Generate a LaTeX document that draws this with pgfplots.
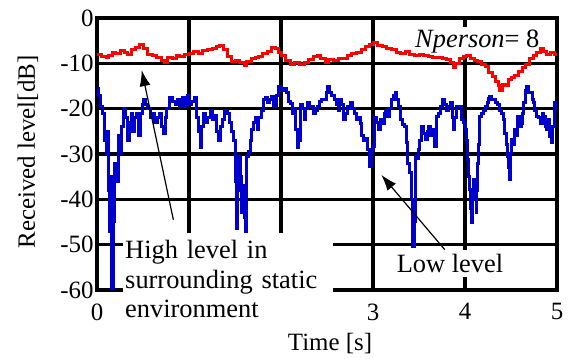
\documentclass[border=0pt]{standalone}
\usepackage{fontspec}
\setmainfont{Liberation Serif}
\usepackage{pgfplots}
\pgfplotsset{compat=1.18}
\usetikzlibrary{arrows.meta}
\definecolor{dred}{RGB}{255,0,0}
\definecolor{dblue}{RGB}{0,0,204}
\begin{document}
\begin{tikzpicture}
\path[use as bounding box] (-97bp,-69bp) rectangle (471bp,290bp);
\begin{axis}[name=ax, scale only axis, width=460bp, height=272bp,
  xmin=0, xmax=5, ymin=-60, ymax=0,
  clip mode=individual,
  xtick={0,1,2,3,4,5}, xticklabels={0,,,3,4,5},
  ytick={-60,-50,-40,-30,-20,-10,0}, yticklabels={-60,-50,-40,-30,-20,-10,0},
  grid=major, major grid style={black, line width=3.5bp},
  axis line style={black, line width=3.5bp},
  major tick length=0pt,
  tick label style={font=\fontsize{25}{30}\selectfont},
  xticklabel style={yshift=-10bp},
]
\node[anchor=north west, fill=white, inner xsep=2bp, inner ysep=7bp, text width=206bp, align=left, font=\fontsize{26.5}{30}\selectfont] at (axis cs:0.283,-47.36) {High level in\\surrounding static\\environment};
\node[anchor=base, fill=white, inner sep=4bp, font=\fontsize{26.5}{30}\selectfont] at (axis cs:3.837,-56.2) {Low level};
\node[anchor=base west, fill=white, inner xsep=2bp, inner ysep=3bp, font=\fontsize{26.5}{30}\selectfont] at (axis cs:3.435,-6.61) {\itshape Nperson\upshape = 8};
\addplot[dred, line width=3bp, const plot] coordinates {
(0.00,-8.0)(0.05,-8.5)(0.10,-8.8)(0.13,-8.2)(0.17,-7.6)(0.20,-7.9)(0.25,-7.2)(0.30,-7.6)(0.33,-8.0)(0.38,-7.0)
(0.42,-6.5)(0.46,-5.9)(0.50,-6.8)(0.55,-8.0)(0.60,-8.2)(0.65,-8.7)(0.70,-9.3)(0.73,-9.8)(0.77,-8.7)(0.82,-8.9)
(0.86,-8.3)(0.90,-8.5)(0.95,-8.1)(1.00,-7.8)(1.05,-7.5)(1.10,-7.9)(1.15,-7.2)(1.20,-7.0)(1.25,-6.8)(1.30,-6.3)
(1.33,-6.0)(1.37,-6.9)(1.42,-8.6)(1.46,-9.6)(1.50,-9.4)(1.55,-9.9)(1.60,-10.4)(1.63,-9.5)(1.68,-9.0)(1.72,-8.7)
(1.76,-8.5)(1.80,-7.9)(1.85,-7.3)(1.90,-6.4)(1.94,-6.8)(1.97,-7.6)(2.00,-8.2)(2.05,-9.4)(2.10,-10.3)(2.15,-9.8)
(2.20,-10.2)(2.25,-9.9)(2.30,-9.2)(2.35,-8.5)(2.40,-8.2)(2.43,-9.0)(2.48,-9.8)(2.52,-9.2)(2.57,-9.4)(2.62,-9.0)
(2.67,-8.9)(2.72,-8.3)(2.77,-7.9)(2.82,-7.6)(2.87,-7.0)(2.92,-6.3)(2.96,-5.8)(3.00,-5.5)(3.05,-6.0)(3.10,-6.3)
(3.15,-6.8)(3.20,-7.0)(3.25,-7.6)(3.30,-7.9)(3.35,-7.4)(3.40,-8.0)(3.45,-8.2)(3.50,-8.0)(3.55,-8.3)(3.60,-8.6)
(3.65,-8.7)(3.70,-8.8)(3.75,-9.0)(3.80,-9.2)(3.84,-9.8)(3.87,-10.9)(3.90,-10.0)(3.94,-9.0)(3.98,-8.6)(4.02,-8.3)
(4.06,-8.9)(4.10,-9.3)(4.14,-9.6)(4.18,-10.2)(4.22,-10.8)(4.26,-12.0)(4.30,-13.0)(4.33,-14.0)(4.36,-15.0)(4.38,-16.0)
(4.41,-14.6)(4.44,-14.8)(4.47,-13.6)(4.50,-13.2)(4.54,-12.6)(4.58,-11.8)(4.62,-11.0)(4.66,-10.2)(4.70,-9.0)(4.74,-8.3)
(4.78,-7.6)(4.82,-6.8)(4.85,-7.5)(4.89,-8.0)(4.93,-7.6)(4.97,-8.0)(5.00,-7.8)
};
\addplot[dblue, line width=3bp, const plot] coordinates {
(0.00,-15.5)(0.02,-17)(0.04,-19.5)(0.06,-21)(0.08,-27)(0.10,-30)(0.11,-25)(0.13,-38)(0.14,-47)(0.15,-35)
(0.16,-60)(0.17,-60)(0.18,-45)(0.19,-32)(0.21,-36)(0.23,-26)(0.25,-30)(0.27,-24)(0.29,-20)(0.31,-22)
(0.33,-27)(0.35,-23)(0.37,-21)(0.39,-25)(0.41,-22)(0.43,-21)(0.45,-26)(0.47,-21)(0.49,-19)(0.51,-18)
(0.53,-19)(0.55,-20)(0.58,-22)(0.60,-21)(0.63,-23)(0.66,-22)(0.68,-21)(0.70,-24)(0.72,-25.5)(0.74,-22)
(0.76,-20)(0.79,-17.5)(0.82,-18.5)(0.85,-19)(0.88,-18)(0.90,-19.5)(0.93,-17.5)(0.96,-19.5)(0.98,-17)(1.00,-19)
(1.03,-18.5)(1.06,-17.5)(1.08,-22)(1.10,-25)(1.12,-28.5)(1.14,-24)(1.16,-21)(1.18,-23)(1.20,-22)(1.23,-20.5)
(1.26,-22.5)(1.28,-21.5)(1.30,-25)(1.32,-27)(1.34,-24)(1.36,-22.5)(1.39,-20.5)(1.42,-21)(1.44,-23)(1.46,-25)
(1.48,-27)(1.50,-28.5)(1.51,-36)(1.52,-46.5)(1.53,-38)(1.54,-30.5)(1.56,-35)(1.57,-43)(1.58,-40)(1.59,-37)
(1.60,-44)(1.61,-47)(1.62,-40)(1.63,-30.5)(1.65,-29.5)(1.67,-27)(1.68,-24.5)(1.70,-23)(1.72,-22)(1.74,-24.5)
(1.76,-22)(1.79,-20.5)(1.81,-18)(1.83,-17.5)(1.85,-18.7)(1.88,-18)(1.90,-17.3)(1.92,-19.5)(1.95,-17)(1.97,-15.2)
(2.00,-16)(2.03,-15.5)(2.06,-16.5)(2.08,-18.5)(2.10,-18.8)(2.12,-21)(2.14,-20)(2.16,-24.5)(2.18,-28.5)(2.19,-27)
(2.21,-19)(2.23,-20)(2.25,-22.5)(2.27,-20)(2.29,-18.7)(2.31,-19.5)(2.33,-19.5)(2.35,-21)(2.37,-20.5)(2.40,-19.5)
(2.42,-18.5)(2.44,-18)(2.47,-18)(2.49,-16.5)(2.51,-15.2)(2.53,-16.5)(2.55,-17)(2.58,-18)(2.60,-19)(2.62,-20.3)
(2.64,-18)(2.66,-19)(2.68,-22.5)(2.70,-21)(2.72,-19.5)(2.74,-20)(2.76,-18.7)(2.78,-20)(2.80,-21)(2.82,-22.5)
(2.84,-22)(2.86,-23.2)(2.88,-26)(2.90,-27)(2.92,-26.5)(2.94,-29)(2.96,-32.8)(2.98,-29)(3.00,-28.3)(3.02,-22)
(3.04,-23)(3.06,-24.7)(3.08,-22.5)(3.10,-23.2)(3.12,-21)(3.14,-20.3)(3.16,-21.8)(3.18,-20)(3.20,-18)(3.22,-17)
(3.24,-16.5)(3.26,-18)(3.28,-19.5)(3.30,-22.5)(3.32,-23.5)(3.34,-24)(3.36,-27.5)(3.37,-30)(3.38,-32)(3.40,-34)
(3.42,-40)(3.43,-50.5)(3.45,-45)(3.46,-30.6)(3.48,-31)(3.49,-29)(3.51,-27)(3.53,-24)(3.55,-25.5)(3.57,-26.9)
(3.59,-25)(3.60,-24)(3.62,-26)(3.64,-24.7)(3.66,-26)(3.67,-28.3)(3.69,-21.8)(3.71,-21)(3.73,-19.5)(3.75,-18.5)
(3.76,-18)(3.78,-19)(3.80,-20.3)(3.82,-19.5)(3.84,-18.7)(3.86,-22)(3.87,-24.7)(3.89,-22)(3.91,-19.5)(3.93,-19.5)
(3.96,-22.5)(3.98,-23)(4.00,-24.7)(4.02,-27)(4.03,-31.3)(4.04,-35)(4.05,-37.9)(4.06,-42)(4.07,-45.2)(4.08,-40)
(4.09,-35.7)(4.10,-37)(4.11,-40)(4.12,-43)(4.13,-38)(4.14,-32)(4.15,-28)(4.16,-21.8)(4.18,-21)(4.20,-20.3)
(4.22,-19.5)(4.24,-18.7)(4.26,-17.8)(4.27,-17.3)(4.29,-18)(4.31,-18)(4.33,-18.7)(4.35,-19)(4.38,-20.3)(4.40,-21)
(4.42,-22.5)(4.43,-25.4)(4.45,-28)(4.46,-30.6)(4.47,-33)(4.48,-35.7)(4.49,-30)(4.50,-26.9)(4.52,-28)(4.54,-24.7)
(4.56,-26)(4.57,-21.8)(4.59,-24)(4.61,-23.2)(4.63,-21)(4.64,-18.7)(4.66,-16)(4.67,-15.2)(4.69,-16.5)(4.71,-16.5)
(4.73,-18)(4.74,-18.7)(4.76,-20.5)(4.78,-21.8)(4.80,-22)(4.82,-23.2)(4.84,-21)(4.85,-21.8)(4.87,-24)(4.89,-24.7)
(4.91,-22.5)(4.92,-26.1)(4.94,-27.5)(4.95,-24)(4.97,-18.7)(4.99,-20)(5.00,-20.3)
};
\draw[-{Latex[length=16bp,width=11bp]}, line width=1.2bp] (axis cs:0.83,-44.5) -- (axis cs:0.486,-11.5);
\draw[-{Latex[length=16bp,width=11bp]}, line width=1.2bp] (axis cs:3.78,-51.1) -- (axis cs:3.09,-34.6);
\end{axis}
\node[rotate=90, anchor=base, font=\fontsize{25}{30}\selectfont] at (-62bp,138bp) {Received level[dB]};
\node[anchor=base, font=\fontsize{25}{30}\selectfont] at (233bp,-60bp) {Time [s]};
\end{tikzpicture}
\end{document}
